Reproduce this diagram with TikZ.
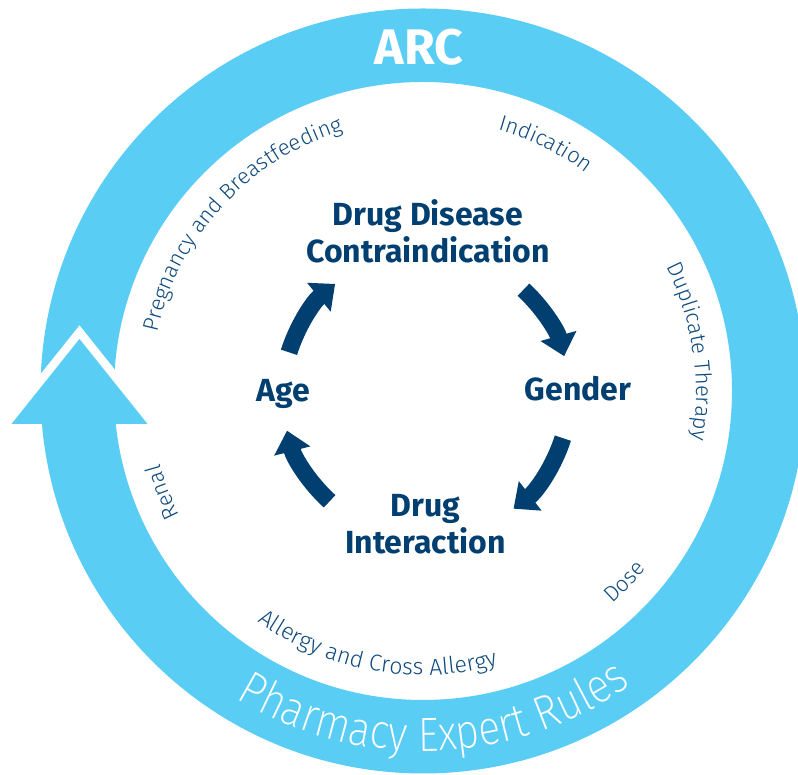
\documentclass[tikz,border=0pt]{standalone}
\usepackage{fontspec}
\setmainfont{Fira Sans}
\newfontfamily\lightfont{Fira Sans Light}
\newfontfamily\pharmfont{Fira Sans ExtraLight}[FakeStretch=0.86]
\usetikzlibrary{decorations.text, arrows.meta}
\definecolor{ringblue}{HTML}{5ACDF5}
\definecolor{navy}{HTML}{003F70}
\definecolor{labelblue}{HTML}{0E4A7E}
\newcommand\lblfont{\lightfont\fontsize{22}{22}\selectfont}
\newcommand\lblfontb{\lightfont\fontsize{23}{23}\selectfont}
\newcommand\bigfont{\pharmfont\fontsize{48}{48}\selectfont}
\newcommand\cwlabel[4]{% font, radius, mid angle, text (clockwise, tops outward)
  \pgfmathsetmacro\startang{#3+60}\pgfmathsetmacro\endang{#3-60}%
  \path[decorate, decoration={text along path, text={|#1|#4}, text align=center}]
    ([shift={(\startang:#2)}]ring) arc[start angle=\startang, end angle=\endang, radius=#2];}
\newcommand\ccwlabel[4]{% font, radius, mid angle, text (counter-clockwise, tops inward)
  \pgfmathsetmacro\startang{#3-60}\pgfmathsetmacro\endang{#3+60}%
  \path[decorate, decoration={text along path, text={|#1|#4}, text align=center}]
    ([shift={(\startang:#2)}]ring) arc[start angle=\startang, end angle=\endang, radius=#2];}
\begin{document}
\begin{tikzpicture}[x=1pt,y=1pt,
  boldlabel/.style={font=\bfseries\fontsize{32}{36.5}\selectfont, text=navy, align=center, inner sep=0pt},
  cyclearrow/.style={navy, line width=17pt, -{Triangle[width=36pt,length=21pt]}},
]
\useasboundingbox (0,0) rectangle (798,775);
\clip (0,0) rectangle (798,775);
\coordinate (ring) at (423,384);
\fill[ringblue, even odd rule] (ring) circle[radius=382.5] (ring) circle[radius=309];
% arrow head on the ring
\coordinate (hl) at (11.5,351);
\coordinate (ht) at (79.5,436);
\coordinate (hr) at (147.5,351);
\draw[white, line width=17pt, line join=miter] (hl) -- (ht) -- (hr);
\fill[ringblue] (hl) -- (ht) -- (hr) -- cycle;
% ring texts
\node[font=\bfseries\fontsize{50}{50}\selectfont, text=white, anchor=base, inner sep=0pt] (arc) at (419,710) {ARC};
\cwlabel{\color{labelblue}\lblfont}{272}{137.4}{Pregnancy and Breastfeeding}
\cwlabel{\color{labelblue}\lblfont}{272}{63.6}{Indication}
\cwlabel{\color{labelblue}\lblfont}{273}{8.4}{Duplicate Therapy}
\cwlabel{\color{labelblue}\lblfont}{273}{201.3}{Renal}
\ccwlabel{\color{labelblue}\lblfont}{285}{-43.4}{Dose}
\ccwlabel{\color{labelblue}\lblfontb}{284}{-100.2}{Allergy and Cross Allergy}
\ccwlabel{\color{white}\bigfont}{360}{-88}{Pharmacy Expert Rules}
% inner cycle
\node[boldlabel, anchor=south] (ddc) at (428,512) {Drug Disease\\Contraindication};
\node[boldlabel, anchor=base] (gender) at (578,374) {Gender};
\node[boldlabel, anchor=base] (age) at (283,373) {Age};
\node[boldlabel, anchor=south] (di) at (425.5,221) {Drug\\Interaction};
\coordinate (cyc) at (426,380);
\draw[cyclearrow] ([shift={(162.7:143.5)}]cyc) arc[start angle=162.7, end angle=129.3, radius=143.5];
\draw[cyclearrow] ([shift={(47.2:143.5)}]cyc) arc[start angle=47.2, end angle=15.7, radius=143.5];
\draw[cyclearrow] ([shift={(-17.5:143.5)}]cyc) arc[start angle=-17.5, end angle=-52.4, radius=143.5];
\draw[cyclearrow] ([shift={(-132.2:143.5)}]cyc) arc[start angle=-132.2, end angle=-165.6, radius=143.5];
\end{tikzpicture}
\end{document}
